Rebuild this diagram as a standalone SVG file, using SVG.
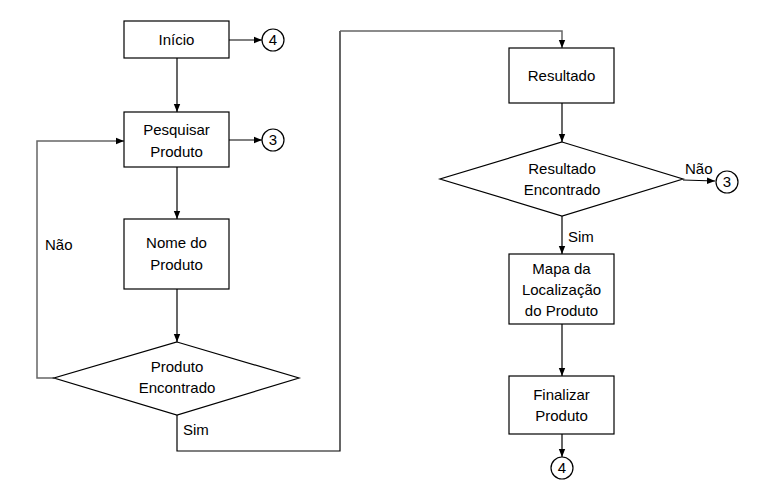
<svg xmlns="http://www.w3.org/2000/svg" width="766" height="498" viewBox="0 0 766 498">
<defs>
<marker id="ah" viewBox="0 0 8 8" refX="8" refY="4" markerWidth="8" markerHeight="8" markerUnits="userSpaceOnUse" orient="auto">
<path d="M0,0.8 L8,4 L0,7.2 Z" fill="#000"/>
</marker>
</defs>
<style>
.box{fill:#fff;stroke:#000;stroke-width:1.2}
.t{font-family:"Liberation Sans",Arial,sans-serif;font-size:15px;fill:#000;text-anchor:middle}
.l{font-family:"Liberation Sans",Arial,sans-serif;font-size:15px;fill:#000}
.c{fill:none;stroke:#000;stroke-width:1.2}
.g{fill:none;stroke:#666;stroke-width:1.5}
</style>
<rect width="766" height="498" fill="#fff"/>
<g id="connectors">
<line class="c" x1="229" y1="40" x2="262" y2="40" marker-end="url(#ah)"/>
<line class="c" x1="177" y1="58" x2="177" y2="112" marker-end="url(#ah)"/>
<line class="c" x1="229" y1="140" x2="262" y2="140" marker-end="url(#ah)"/>
<line class="c" x1="177" y1="167" x2="177" y2="219" marker-end="url(#ah)"/>
<line class="c" x1="177" y1="289" x2="177" y2="342" marker-end="url(#ah)"/>
<polyline class="g" points="54,378 37,378 37,141 124,141" marker-end="url(#ah)"/>
<polyline class="c" points="177,415 177,451 340,451 340,31" />
<polyline class="g" points="340,31 562,31 562,48" marker-end="url(#ah)"/>
<line class="c" x1="562" y1="103" x2="562" y2="142" marker-end="url(#ah)"/>
<line class="c" x1="683" y1="180" x2="715" y2="181" marker-end="url(#ah)"/>
<line class="c" x1="562" y1="216" x2="562" y2="254" marker-end="url(#ah)"/>
<line class="c" x1="562" y1="324" x2="562" y2="376" marker-end="url(#ah)"/>
<line class="c" x1="562" y1="434" x2="562" y2="457" marker-end="url(#ah)"/>
</g>
<g id="inicio">
<rect class="box" x="124" y="21" width="105" height="37"/>
<text class="t" x="176.5" y="45">Início</text>
</g>
<g id="c4a">
<circle class="box" cx="273" cy="40" r="11"/>
<text class="t" x="273" y="45">4</text>
</g>
<g id="pesquisar">
<rect class="box" x="124" y="112" width="105" height="55"/>
<text class="t" x="176.5" y="135">Pesquisar</text>
<text class="t" x="176.5" y="157">Produto</text>
</g>
<g id="c3a">
<circle class="box" cx="273" cy="140" r="11"/>
<text class="t" x="273" y="145">3</text>
</g>
<g id="nome">
<rect class="box" x="124" y="219" width="105" height="70"/>
<text class="t" x="176.5" y="248">Nome do</text>
<text class="t" x="176.5" y="270">Produto</text>
</g>
<g id="produtoEncontrado">
<polygon class="box" points="177,342 299,378 177,415 54,378"/>
<text class="t" x="177" y="372">Produto</text>
<text class="t" x="177" y="393">Encontrado</text>
</g>
<text class="l" x="45" y="250">Não</text>
<text class="l" x="183" y="435">Sim</text>
<g id="resultado">
<rect class="box" x="509" y="48" width="105" height="55"/>
<text class="t" x="561.5" y="81">Resultado</text>
</g>
<g id="resultadoEncontrado">
<polygon class="box" points="562,142 683,179 562,216 440,179"/>
<text class="t" x="562" y="174">Resultado</text>
<text class="t" x="562" y="195">Encontrado</text>
</g>
<text class="l" x="685" y="174">Não</text>
<text class="l" x="568" y="242">Sim</text>
<g id="c3b">
<circle class="box" cx="727" cy="182" r="11"/>
<text class="t" x="727" y="187">3</text>
</g>
<g id="mapa">
<rect class="box" x="509" y="254" width="105" height="70"/>
<text class="t" x="561.5" y="274">Mapa da</text>
<text class="t" x="561.5" y="295">Localização</text>
<text class="t" x="561.5" y="316">do Produto</text>
</g>
<g id="finalizar">
<rect class="box" x="509" y="376" width="105" height="58"/>
<text class="t" x="561.5" y="400">Finalizar</text>
<text class="t" x="561.5" y="421">Produto</text>
</g>
<g id="c4b">
<circle class="box" cx="562" cy="468" r="11"/>
<text class="t" x="562" y="473">4</text>
</g>
</svg>
